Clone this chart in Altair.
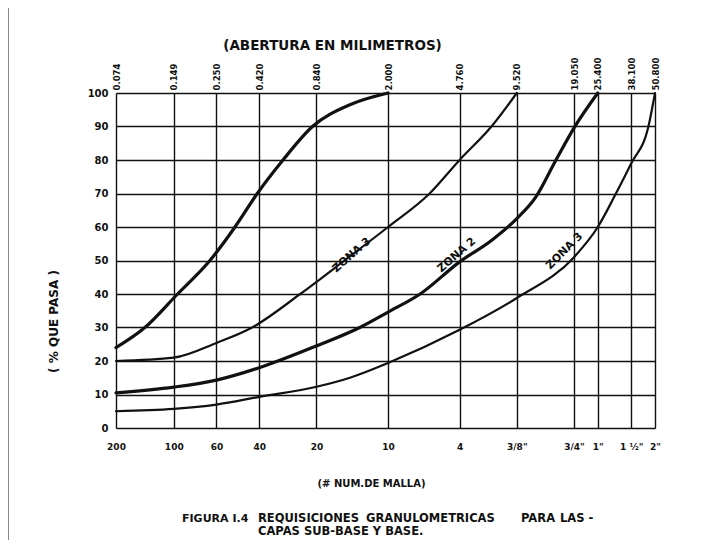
import json
import altair as alt
import pandas as pd

FONT = "DejaVu Sans"
INK = "#111111"

# Sieve openings (mm) and their mesh designations
sieve_mm = [0.074, 0.149, 0.250, 0.420, 0.840, 2.000, 4.760, 9.520, 19.050, 25.400, 38.100, 50.800]
mm_labels = ["0.074", "0.149", "0.250", "0.420", "0.840", "2.000", "4.760", "9.520",
             "19.050", "25.400", "38.100", "50.800"]
mesh_labels = ["200", "100", "60", "40", "20", "10", "4", '3/8"', '3/4"', '1"', '1 ½"', '2"']
y_ticks = [0, 10, 20, 30, 40, 50, 60, 70, 80, 90, 100]

# Grading limit curves (% passing vs opening in mm)
c1_mm = [0.074, 0.105, 0.156, 0.231, 0.313, 0.410, 0.560, 0.800, 1.26, 2.000]
c1_pct = [24, 30, 40, 50, 60, 70, 80, 90, 96.5, 100]

c2_mm = [0.074, 0.149, 0.250, 0.385, 0.690, 1.18, 2.000, 3.31, 4.760, 7.0, 9.520]
c2_pct = [20, 21, 25.4, 30, 40, 50, 60, 70, 80, 90, 100]

c3_mm = [0.074, 0.149, 0.250, 0.420, 0.840, 1.42, 2.000, 2.95, 4.760, 7.0, 9.520, 12.0, 15.3, 19.050, 25.400]
c3_pct = [10.5, 12.2, 14.3, 18, 24.5, 30, 34.6, 40, 49.6, 56, 62.5, 69, 80, 89.6, 100]

c4_mm = [0.074, 0.149, 0.250, 0.420, 0.840, 1.26, 2.000, 4.760, 9.520, 19.050, 25.400, 31.0, 38.100, 46.9, 50.800]
c4_pct = [5, 5.7, 7, 9.3, 12.3, 15, 19.4, 29.3, 38.8, 51, 60, 69, 79, 90, 100]

curve_names = ["c1", "c2", "c3", "c4"]
curve_widths = [3.2, 2.2, 3.2, 2.2]

# Zone labels
zone_text = ["ZONA 3", "ZONA 2", "ZONA 3"]
zone_mm = [1.29, 4.6, 17.0]
zone_pct = [51.6, 51.6, 52.8]
zone_angle = [319, 319, 315]

rows = []
for name, w, mms, pcts in zip(curve_names, curve_widths,
                              [c1_mm, c2_mm, c3_mm, c4_mm],
                              [c1_pct, c2_pct, c3_pct, c4_pct]):
    for i, (m, p) in enumerate(zip(mms, pcts)):
        rows.append({"curve": name, "w": w, "mm": m, "pct": p, "order": i})
df = pd.DataFrame(rows)
zones = pd.DataFrame({"text": zone_text, "mm": zone_mm, "pct": zone_pct, "ang": zone_angle})

xscale = alt.Scale(type="log", domain=[sieve_mm[0], sieve_mm[-1]], nice=False)
yscale = alt.Scale(domain=[0, 100], nice=False, zero=True)

mesh_expr = f"{json.dumps(mesh_labels)}[indexof({json.dumps(sieve_mm)}, datum.value)]"
mm_expr = f"{json.dumps(mm_labels)}[indexof({json.dumps(sieve_mm)}, datum.value)]"

y_axis = alt.Axis(
    values=y_ticks, grid=True, gridColor=INK, gridWidth=1.4, gridOpacity=1,
    domain=False, ticks=False, labelFont=FONT, labelFontWeight="bold",
    labelFontSize=10, labelColor=INK, labelPadding=8,
    title="( % QUE PASA )", titleFont=FONT, titleFontWeight="bold", titleFontSize=12,
    titleColor=INK, titleAngle=270, titleX=-63, titleY=228,
    titleAlign="center", titleBaseline="middle",
)

x_bottom = alt.Axis(
    orient="bottom", values=sieve_mm, labelExpr=mesh_expr, grid=True, gridColor=INK,
    gridWidth=1.4, gridOpacity=1, domain=False, ticks=False, labelOverlap=False,
    labelFlush=False, labelBound=False, labelFont=FONT, labelFontWeight="bold",
    labelFontSize=9, labelColor=INK, labelPadding=14,
    title="(# NUM.DE MALLA)", titleFont=FONT, titleFontWeight="bold", titleFontSize=10,
    titleColor=INK, titleX=255, titleY=55, titleAlign="center", titleBaseline="middle",
)

x_top = alt.Axis(
    orient="top", values=sieve_mm, labelExpr=mm_expr, grid=False, domain=False,
    ticks=False, labelOverlap=False, labelFlush=False, labelBound=False,
    labelAngle=270, labelAlign="left", labelBaseline="middle", labelPadding=3,
    labelFont=FONT, labelFontWeight="bold", labelFontSize=8.5, labelColor=INK,
    title="(ABERTURA EN MILIMETROS)", titleFont=FONT, titleFontWeight="bold",
    titleFontSize=13.5, titleColor=INK, titleX=216, titleY=-48,
    titleAlign="center", titleBaseline="middle",
)

lines = alt.Chart(df).mark_line(interpolate="monotone", color=INK, strokeCap="round").encode(
    x=alt.X("mm:Q", scale=xscale, axis=x_bottom),
    y=alt.Y("pct:Q", scale=yscale, axis=y_axis),
    detail="curve:N",
    order="order:Q",
    strokeWidth=alt.StrokeWidth("w:Q", scale=None, legend=None),
)

labels = alt.Chart(zones).mark_text(
    font=FONT, fontWeight="bold", fontSize=11, color=INK, align="center", baseline="middle"
).encode(
    x=alt.X("mm:Q", scale=xscale, axis=x_top),
    y=alt.Y("pct:Q", scale=yscale, axis=y_axis),
    text="text:N",
    angle=alt.Angle("ang:Q", scale=None),
)

caption_df = pd.DataFrame({"t": ["x"]})


def caption(text, x, y, size=11.5):
    return alt.Chart(caption_df).mark_text(
        font=FONT, fontWeight="bold", fontSize=size, color=INK, align="left", baseline="middle"
    ).encode(x=alt.value(x), y=alt.value(y), text=alt.value(text))


cap_layers = [
    caption("FIGURA I.4", 66, 426, 11),
    caption("REQUISICIONES", 142, 426),
    caption("GRANULOMETRICAS", 250, 426),
    caption("PARA", 405, 426),
    caption("LAS -", 444, 426),
    caption("CAPAS SUB-BASE Y BASE.", 142, 439),
]

border = alt.Chart(caption_df).mark_rule(color=INK, strokeWidth=3).encode(
    x=alt.value(-109), y=alt.value(-93), y2=alt.value(455)
)

chart = alt.layer(lines, labels, *cap_layers, border).properties(
    width=539, height=335,
    padding={"left": 108, "top": 85, "right": 30, "bottom": 112},
    autosize=alt.AutoSizeParams(type="none"),
).configure_view(stroke=INK, strokeWidth=2.2).configure(background="white")

chart.save("out.html", embed_options={"renderer": "svg", "actions": False})
